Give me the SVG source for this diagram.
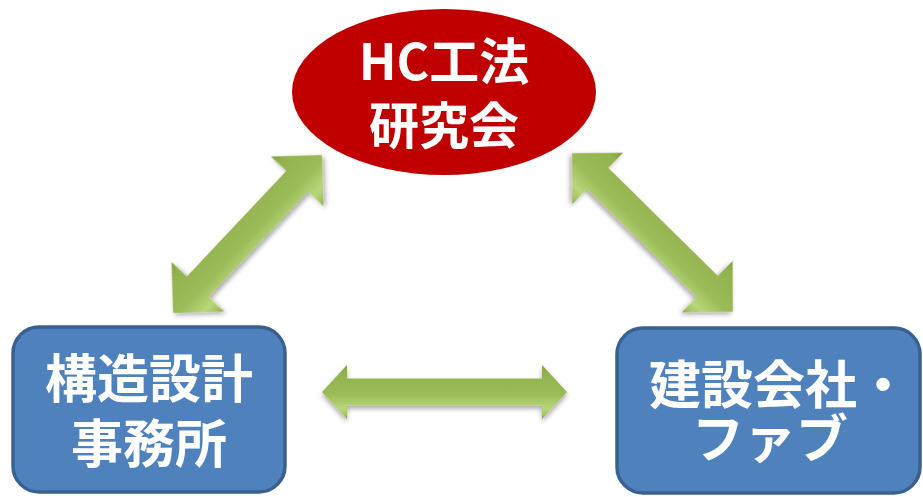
<svg xmlns="http://www.w3.org/2000/svg" width="923" height="497" viewBox="0 0 923 497">
  <style>
    .lbl { font-family: "Noto Sans CJK JP", "Noto Sans", sans-serif; font-weight: bold; fill: #FFFFFF; text-anchor: middle; }
    .box { fill: #4F81BD; stroke: #3A6090; stroke-width: 3.5; }
    .arrow { fill: url(#greenGrad); filter: url(#shadow); }
  </style>
  <defs>
    <linearGradient id="greenGrad" x1="0" y1="0" x2="0" y2="1">
      <stop offset="0" stop-color="#7E9C3E"/>
      <stop offset="0.15" stop-color="#93B34F"/>
      <stop offset="0.55" stop-color="#9BBB59"/>
      <stop offset="0.8" stop-color="#B9D67A"/>
      <stop offset="0.92" stop-color="#A7C463"/>
      <stop offset="1" stop-color="#7F9C40"/>
    </linearGradient>
    <filter id="shadow" x="-20%" y="-20%" width="140%" height="140%">
      <feDropShadow dx="0" dy="3" stdDeviation="2.5" flood-color="#000000" flood-opacity="0.35"/>
    </filter>
  </defs>

  <g id="connectors">
    <path class="arrow" transform="translate(247.5 234) rotate(-46.7)" d="M -108.5 0 L -72.5 -36 L -72.5 -15 L 72.5 -15 L 72.5 -36 L 108.5 0 L 72.5 36 L 72.5 15 L -72.5 15 L -72.5 36 Z"/>
    <path class="arrow" transform="translate(652.5 232.5) rotate(44.6)" d="M -113 0 L -77 -36 L -77 -15 L 77 -15 L 77 -36 L 113 0 L 77 36 L 77 15 L -77 15 L -77 36 Z"/>
    <path class="arrow" transform="translate(444.5 392)" d="M -122.5 0 L -97.5 -27 L -97.5 -13.5 L 97.5 -13.5 L 97.5 -27 L 122.5 0 L 97.5 27 L 97.5 13.5 L -97.5 13.5 L -97.5 27 Z"/>
  </g>

  <g id="hc">
    <ellipse cx="444" cy="92" rx="152" ry="83" fill="#C00000"/>
    <text class="lbl" x="444" y="80" font-size="50">HC工法</text>
    <text class="lbl" x="444" y="144" font-size="50">研究会</text>
  </g>

  <g id="structural">
    <rect class="box" x="13" y="327" width="272" height="165" rx="26" ry="26"/>
    <text class="lbl" x="149" y="398" font-size="52">構造設計</text>
    <text class="lbl" x="149" y="463" font-size="52">事務所</text>
  </g>

  <g id="construction">
    <rect class="box" x="617" y="328" width="303" height="165" rx="26" ry="26"/>
    <text class="lbl" x="779" y="404" font-size="52">建設会社・</text>
    <text class="lbl" x="770" y="458" font-size="52">ファブ</text>
  </g>
</svg>
